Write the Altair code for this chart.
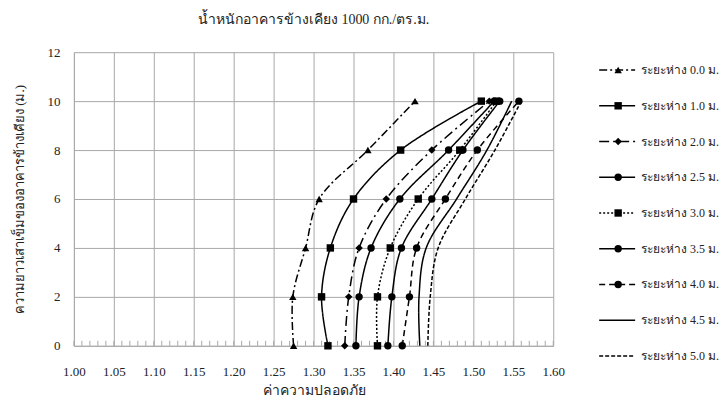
import altair as alt
import pandas as pd

# ---------------- data ----------------
heights = [0, 2, 4, 6, 8, 10]

series_names = [
    "ระยะห่าง 0.0 ม.",
    "ระยะห่าง 1.0 ม.",
    "ระยะห่าง 2.0 ม.",
    "ระยะห่าง 2.5 ม.",
    "ระยะห่าง 3.0 ม.",
    "ระยะห่าง 3.5 ม.",
    "ระยะห่าง 4.0 ม.",
    "ระยะห่าง 4.5 ม.",
    "ระยะห่าง 5.0 ม.",
]

fs_00 = [1.275, 1.274, 1.290, 1.307, 1.368, 1.427]
fs_10 = [1.318, 1.310, 1.321, 1.350, 1.409, 1.510]
fs_20 = [1.339, 1.344, 1.357, 1.391, 1.448, 1.520]
fs_25 = [1.353, 1.357, 1.372, 1.408, 1.469, 1.526]
fs_30 = [1.380, 1.380, 1.396, 1.431, 1.483, 1.529]
fs_35 = [1.393, 1.398, 1.410, 1.448, 1.487, 1.533]
fs_40 = [1.411, 1.420, 1.429, 1.465, 1.505, 1.557]
fs_45 = [1.433, 1.432, 1.441, 1.479, 1.517, 1.548]
fs_50 = [1.443, 1.446, 1.456, 1.490, 1.527, 1.560]

all_series = [fs_00, fs_10, fs_20, fs_25, fs_30, fs_35, fs_40, fs_45, fs_50]

x_ticks = [1.00, 1.05, 1.10, 1.15, 1.20, 1.25, 1.30, 1.35, 1.40, 1.45, 1.50, 1.55, 1.60]
minor_ticks = [round(1.0 + i * 0.01, 2) for i in range(61)]
y_ticks = [0, 2, 4, 6, 8, 10, 12]

title_text = "น้ำหนักอาคารข้างเคียง 1000 กก./ตร.ม."
x_title = "ค่าความปลอดภัย"
y_title = "ความยาวเสาเข็มของอาคารข้างเคียง (ม.)"

# styles
dash_styles = [
    [8, 3, 2, 3],   # 0.0 dash-dot
    [1, 0],         # 1.0 solid
    [10, 4, 2, 4],  # 2.0 long dash dot
    [1, 0],         # 2.5 solid
    [2, 2],         # 3.0 dotted
    [1, 0],         # 3.5 solid
    [6, 4],         # 4.0 dashed
    [1, 0],         # 4.5 solid
    [4, 2],         # 5.0 short dash
]
marker_series = series_names[:7]
marker_shapes = ["triangle-up", "square", "diamond", "circle", "square", "circle", "circle"]
marker_sizes = [55, 55, 35, 40, 55, 40, 40]

FONT = "Liberation Serif, Noto Sans, DejaVu Sans, serif"

rows = []
for name, vals in zip(series_names, all_series):
    for h, v in zip(heights, vals):
        rows.append({"series": name, "h": h, "fs": v})
df = pd.DataFrame(rows)
df_pts = df[df["series"].isin(marker_series)]

tick_df = pd.DataFrame({"fs": minor_ticks})
legend_df = pd.DataFrame({"series": series_names})
legend_pts = pd.DataFrame({"series": marker_series})

W, H = 480, 294
GRID = "#a8a8a8"

xscale = alt.Scale(domain=[1.0, 1.6], nice=False, zero=False)
yscale = alt.Scale(domain=[0, 12], nice=False, zero=False)
dash_scale = alt.Scale(domain=series_names, range=dash_styles)
shape_scale = alt.Scale(domain=marker_series, range=marker_shapes)
size_scale = alt.Scale(domain=marker_series, range=marker_sizes)

x_axis = alt.Axis(values=x_ticks, format=".2f", title=x_title, grid=True,
                  gridColor=GRID, ticks=False, domainColor=GRID,
                  labelOverlap=False, labelFlush=False,
                  labelFont=FONT, labelFontSize=13, labelColor="#222",
                  labelPadding=20, titleFont=FONT, titleFontSize=14,
                  titleFontWeight="normal", titleColor="#222", titlePadding=5)
y_axis = alt.Axis(values=y_ticks, title=y_title, grid=True, gridColor=GRID,
                  ticks=False, domainColor=GRID, labelFont=FONT,
                  labelOverlap=False, labelFlush=False,
                  labelFontSize=13, labelColor="#222", labelPadding=14,
                  titleFont=FONT, titleFontSize=13, titleFontWeight="normal",
                  titleColor="#222", titlePadding=20)

X = alt.X("fs:Q", scale=xscale, axis=x_axis, title=x_title)
Y = alt.Y("h:Q", scale=yscale, axis=y_axis, title=y_title)

lines = alt.Chart(df).mark_line(
    interpolate="catmull-rom", color="black", strokeWidth=1.5
).encode(
    x=X, y=Y,
    detail="series:N",
    strokeDash=alt.StrokeDash("series:N", scale=dash_scale, legend=None),
    order=alt.Order("h:Q"),
)

points = alt.Chart(df_pts).mark_point(filled=True, color="black", opacity=1).encode(
    x=X, y=Y,
    shape=alt.Shape("series:N", scale=shape_scale, legend=None),
    size=alt.Size("series:N", scale=size_scale, legend=None),
)

minor = alt.Chart(tick_df).mark_rule(color=GRID, strokeWidth=1).encode(
    x=X,
    y=alt.value(H - 5),
    y2=alt.value(H),
)

main = alt.layer(minor, lines, points).properties(
    width=W, height=H,
    title=alt.TitleParams(title_text, font=FONT, fontSize=14, fontWeight="normal",
                          color="#222", offset=19),
)

leg_y = alt.Y("series:N", scale=alt.Scale(domain=series_names, type="point", padding=0.5), axis=None)
leg_rule = alt.Chart(legend_df).mark_rule(color="black", strokeWidth=1.5).encode(
    x=alt.value(0), x2=alt.value(36), y=leg_y,
    strokeDash=alt.StrokeDash("series:N", scale=dash_scale, legend=None),
)
leg_pts = alt.Chart(legend_pts).mark_point(filled=True, color="black", opacity=1).encode(
    x=alt.value(19), y=leg_y,
    shape=alt.Shape("series:N", scale=shape_scale, legend=None),
    size=alt.Size("series:N", scale=size_scale, legend=None),
)
leg_text = alt.Chart(legend_df).mark_text(
    align="left", baseline="middle", font=FONT, fontSize=12, color="#222"
).encode(x=alt.value(42), y=leg_y, text="series:N")

legend = alt.layer(leg_rule, leg_pts, leg_text).properties(width=125, height=322)

chart = alt.hconcat(main, legend, spacing=33).configure_view(strokeWidth=0).properties(
    padding={"left": 14, "top": 13, "right": 0, "bottom": 0}
)

chart.save("out.html", embed_options={"renderer": "svg", "actions": False})
